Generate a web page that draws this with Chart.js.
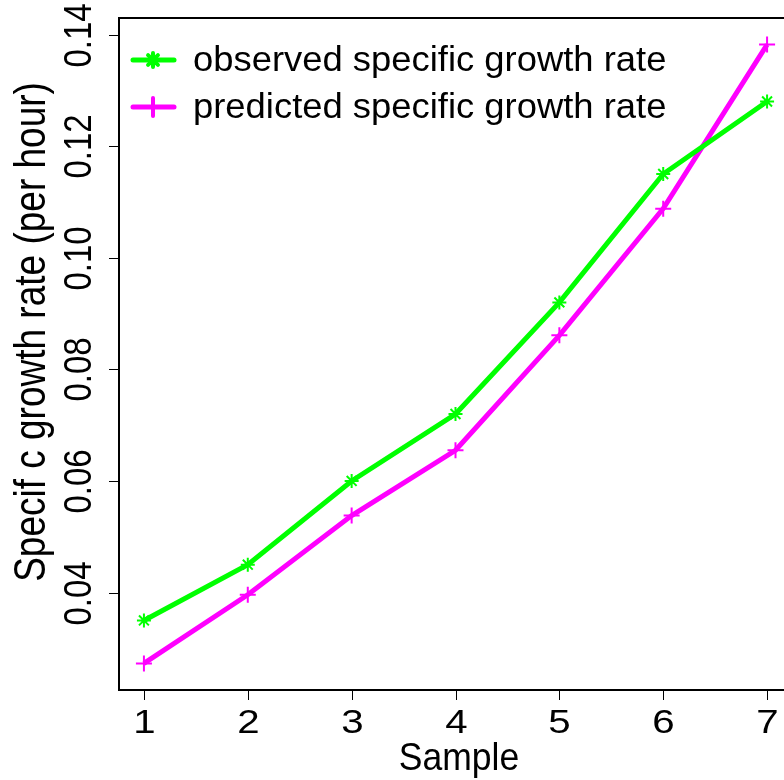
<!DOCTYPE html>
<html>
<head>
<meta charset="utf-8">
<script src="https://cdn.jsdelivr.net/npm/chart.js@4.4.1/dist/chart.umd.min.js"></script>
<style>
  html, body { margin: 0; padding: 0; background: #fff; overflow: hidden; }
  #wrap { width: 784px; height: 780px; overflow: hidden; }
</style>
</head>
<body>
<div id="wrap"><canvas id="myChart" width="810" height="780"></canvas></div>
<script>
var samples = [1, 2, 3, 4, 5, 6, 7];
var observed = [0.035, 0.045, 0.060, 0.072, 0.092, 0.115, 0.128];
var predicted = [0.0273, 0.0396, 0.0538, 0.0655, 0.0861, 0.1088, 0.1382];
var xTicks = [1, 2, 3, 4, 5, 6, 7];
var yTicks = [0.04, 0.06, 0.08, 0.10, 0.12, 0.14];
var seriesNames = ['observed specific growth rate', 'predicted specific growth rate'];
var xTitle = 'Sample';
var yTitle = 'Specif c growth rate (per hour)';

var green = '#00ff00', magenta = '#ff00ff';
var font = '"Liberation Sans", Arial, sans-serif';

// text drawn a bit wide, like the R device output
function wideText(ctx, txt, x, y, rot, sx, sy) {
  ctx.save();
  ctx.translate(x, y);
  if (rot) ctx.rotate(rot);
  ctx.scale(sx, sy);
  ctx.fillText(txt, 0, 0);
  ctx.restore();
}

// R-like axes, labels and legend
var rAxes = {
  id: 'rAxes',
  afterDraw: function(chart) {
    var ctx = chart.ctx, a = chart.chartArea;
    var xs = chart.scales.x, ys = chart.scales.y;
    ctx.save();
    ctx.strokeStyle = '#000';
    ctx.lineWidth = 2;
    ctx.beginPath();
    ctx.moveTo(a.right + 2, a.top); ctx.lineTo(a.left, a.top);
    ctx.lineTo(a.left, a.bottom); ctx.lineTo(a.right + 2, a.bottom);
    ctx.stroke();

    ctx.lineWidth = 1;
    ctx.fillStyle = '#000';
    // x ticks
    ctx.font = '33px ' + font;
    ctx.textAlign = 'center';
    ctx.textBaseline = 'alphabetic';
    xTicks.forEach(function(v) {
      var px = Math.round(xs.getPixelForValue(v)) + 0.5;
      ctx.beginPath(); ctx.moveTo(px, a.bottom); ctx.lineTo(px, a.bottom + 10); ctx.stroke();
      wideText(ctx, String(v), px, 733, 0, 1.22, 1);
    });
    // y ticks, rotated labels
    yTicks.forEach(function(v) {
      var py = Math.round(ys.getPixelForValue(v)) + 0.5;
      ctx.beginPath(); ctx.moveTo(a.left - 10, py); ctx.lineTo(a.left, py); ctx.stroke();
      wideText(ctx, v.toFixed(2), 91, py, -Math.PI / 2, 1, 1.2);
    });
    // titles
    ctx.font = '37px ' + font;
    wideText(ctx, xTitle, 459, 770, 0, 0.96, 1.05);
    wideText(ctx, yTitle, 45, 332, -Math.PI / 2, 1, 1.18);

    // legend
    ctx.font = '35px ' + font;
    ctx.textAlign = 'left';
    ctx.textBaseline = 'middle';
    var rows = [60, 107];
    var cols = [green, magenta];
    rows.forEach(function(y, i) {
      ctx.strokeStyle = cols[i];
      ctx.lineWidth = 5;
      ctx.lineCap = 'round';
      ctx.beginPath(); ctx.moveTo(133, y); ctx.lineTo(174, y); ctx.stroke();
      ctx.lineWidth = 4;
      ctx.beginPath();
      if (i === 0) {
        for (var k = 0; k < 4; k++) {
          var ang = k * Math.PI / 4;
          ctx.moveTo(153 - 7 * Math.cos(ang), y - 7 * Math.sin(ang));
          ctx.lineTo(153 + 7 * Math.cos(ang), y + 7 * Math.sin(ang));
        }
      } else {
        ctx.moveTo(153, y - 9); ctx.lineTo(153, y + 9);
      }
      ctx.stroke();
      ctx.fillStyle = '#000';
      wideText(ctx, seriesNames[i], 193, y + 1, 0, 1.04, 1);
    });
    ctx.restore();
  }
};

new Chart(document.getElementById('myChart'), {
  type: 'line',
  data: {
    datasets: [{
      label: seriesNames[0],
      data: samples.map(function(s, i) { return { x: s, y: observed[i] }; }),
      borderColor: green,
      backgroundColor: green,
      borderWidth: 5,
      pointStyle: 'star',
      pointRadius: 7,
      pointBorderWidth: 2,
      tension: 0
    }, {
      label: seriesNames[1],
      data: samples.map(function(s, i) { return { x: s, y: predicted[i] }; }),
      borderColor: magenta,
      backgroundColor: magenta,
      borderWidth: 5,
      pointStyle: 'cross',
      pointRadius: 8,
      pointBorderWidth: 2,
      tension: 0
    }]
  },
  options: {
    responsive: false,
    animation: false,
    layout: { padding: { left: 119, top: 18, right: 18, bottom: 90 } },
    scales: {
      x: { type: 'linear', display: false, min: 0.76, max: 7.24 },
      y: { type: 'linear', display: false, min: 0.02254, max: 0.14296 }
    },
    plugins: {
      legend: { display: false },
      tooltip: { enabled: false }
    }
  },
  plugins: [rAxes]
});
</script>
</body>
</html>
